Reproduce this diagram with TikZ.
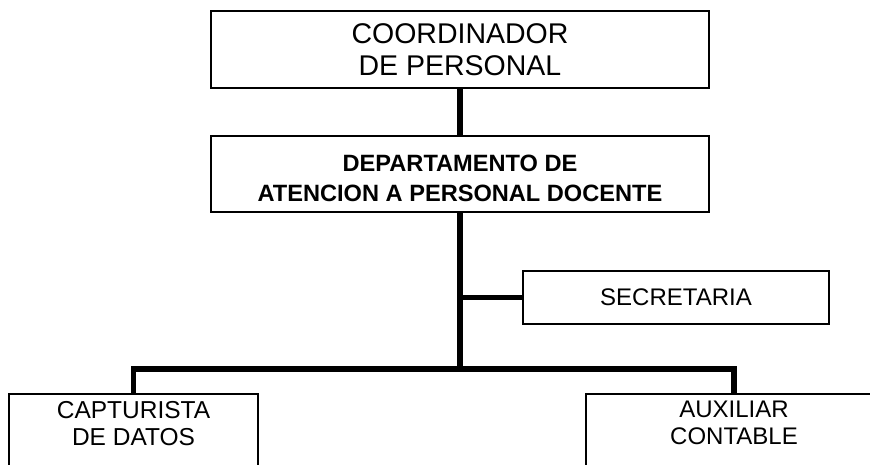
\documentclass[tikz,border=0pt]{standalone}
\usepackage{fontspec}
\setmainfont{Liberation Sans}
\usetikzlibrary{positioning}

\tikzset{
  caja/.style={draw, line width=2.2pt, inner sep=0pt, align=center},
  enlace/.style={line width=5.3pt}
}

\begin{document}
\begin{tikzpicture}[x=1pt, y=-1pt]
    \clip (0,0) rectangle (870,464);
    \useasboundingbox (0,0) rectangle (870,464);
    % Jefaturas
    \node[caja, minimum width=498pt, minimum height=77pt,
          font=\fontsize{28.5}{32}\selectfont] (coord) at (460,49.5)
          {COORDINADOR\\DE PERSONAL};
    \node[caja, font=\fontsize{23.6}{30}\selectfont\bfseries] (depto) at (460,174)
          {\parbox[c][76pt][c]{498pt}{\centering\vspace*{8pt}DEPARTAMENTO DE\\ATENCION A PERSONAL DOCENTE}};
    % Staff
    \node[caja, minimum width=306pt, minimum height=53pt,
          font=\fontsize{24}{26}\selectfont] (secre) at (676,297.5)
          {SECRETARIA};
    % Subordinados
    \node[caja, anchor=north, font=\fontsize{24.5}{27}\selectfont] (captur) at (133.5,393)
          {\parbox[c][110pt][t]{249pt}{\centering\vspace*{7pt}CAPTURISTA\\DE DATOS}};
    \node[caja, anchor=north, font=\fontsize{24}{27}\selectfont] (aux) at (734,393)
          {\parbox[c][110pt][t]{296pt}{\centering\vspace*{7pt}AUXILIAR\\CONTABLE}};
    \coordinate (junta) at (460,369);
    % Conectores
    \draw[enlace] (coord.south) -- (depto.north);
    \draw[enlace] (depto.south) -- (junta);
    \draw[enlace] (secre.west -| depto.south) -- (secre.west);
    \draw[enlace] (captur.north) -- (captur.north |- junta) -- (aux.north |- junta) -- (aux.north);
\end{tikzpicture}
\end{document}
